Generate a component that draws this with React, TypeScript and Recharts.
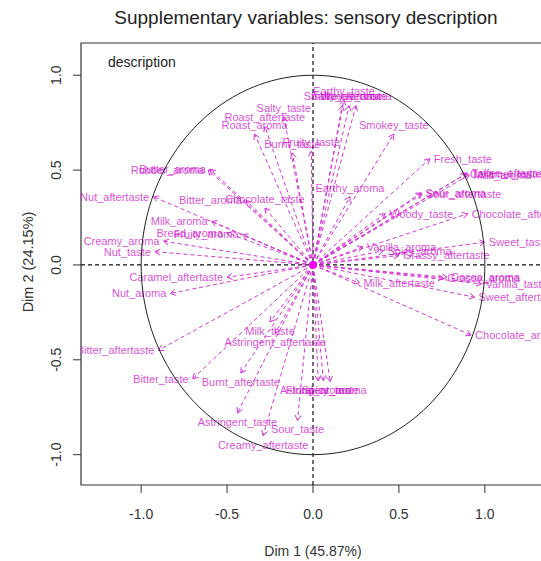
import React from 'react';
import { ScatterChart, Scatter, XAxis, YAxis, ReferenceLine, ReferenceArea, ReferenceDot } from 'recharts';

const chartTitle = 'Supplementary variables: sensory description';
const xTitle = 'Dim 1 (45.87%)';
const yTitle = 'Dim 2 (24.15%)';
const groupLabel = 'description';

const variables = [
  'Earthy_taste', 'Smokey_aroma', 'Salty_aftertaste', 'Woody_aroma', 'Smokey_taste', 'Fresh_taste',
  'Caramel_taste', 'Toffee_aftertaste', 'Malt_aroma', 'Sour_aroma', 'Sour_aftertaste', 'Woody_taste',
  'Chocolate_aftertaste', 'Sweet_taste', 'Vanilla_aroma', 'Spicy_aroma', 'Grassy_aftertaste',
  'Milk_aftertaste', 'Grassy_aroma', 'Cocoa_aroma', 'Vanilla_taste', 'Sweet_aftertaste',
  'Chocolate_aroma', 'Earthy_aroma', 'Salty_taste', 'Roast_aftertaste', 'Roast_aroma', 'Burnt_taste',
  'Fruity_taste', 'Rubber_aroma', 'Butter_aroma', 'Nut_aftertaste', 'Bitter_aroma', 'Chocolate_taste',
  'Milk_aroma', 'Bread_aroma', 'Fruity_aroma', 'Creamy_aroma', 'Nut_taste', 'Caramel_aftertaste',
  'Nut_aroma', 'Bitter_aftertaste', 'Bitter_taste', 'Burnt_aftertaste', 'Milk_taste',
  'Astringent_aftertaste', 'Astringent_taste', 'Creamy_aftertaste', 'Sour_taste', 'Astringent_aroma',
  'Floral_aroma', 'Spicy_taste',
];
const dim1Coords = [
  0.18, 0.17, 0.21, 0.25, 0.47, 0.68,
  0.89, 0.9, 0.91, 0.63, 0.635, 0.42,
  0.9, 1.0, 0.29, 0.41, 0.5,
  0.27, 0.76, 0.78, 0.98, 0.94,
  0.92, 0.215, -0.17, -0.28, -0.34, -0.12,
  -0.01, -0.61, -0.6, -0.93, -0.39, -0.28,
  -0.59, -0.5, -0.41, -0.87, -0.92, -0.5,
  -0.83, -0.9, -0.7, -0.42, -0.25,
  -0.22, -0.44, -0.29, -0.09, 0.06,
  0.03, 0.1,
];
const dim2Coords = [
  0.87, 0.84, 0.84, 0.84, 0.69, 0.56,
  0.48, 0.485, 0.475, 0.38, 0.375, 0.27,
  0.27, 0.12, 0.095, 0.075, 0.05,
  -0.095, -0.07, -0.065, -0.1, -0.17,
  -0.37, 0.36, 0.78, 0.73, 0.69, 0.59,
  0.6, 0.5, 0.505, 0.36, 0.34, 0.3,
  0.23, 0.17, 0.16, 0.125, 0.07, -0.065,
  -0.15, -0.45, -0.6, -0.57, -0.3,
  -0.36, -0.78, -0.9, -0.82, -0.61,
  -0.61, -0.615,
];
const xTicks = [-1, -0.5, 0, 0.5, 1];
const yTicks = [-1, -0.5, 0, 0.5, 1];

// unit correlation circle (geometry, radius 1)
const circlePoints = Array.from({ length: 181 }, (_, i) => ({
  x: Math.cos((i * 2 * Math.PI) / 180),
  y: Math.sin((i * 2 * Math.PI) / 180),
}));

const FONT = '"Liberation Sans", Arial, sans-serif';
const ARROW = '#d633d6';
const LABEL = '#cc00cc';

const makeArrow = (name: string, vx: number, vy: number) => (p: any) => {
  const { x1, y1, x2, y2, clipPath } = p;
  const ang = Math.atan2(y2 - y1, x2 - x1);
  const h = 6;
  const a = Math.PI / 6;
  const ax = x2 - h * Math.cos(ang - a);
  const ay = y2 - h * Math.sin(ang - a);
  const bx = x2 - h * Math.cos(ang + a);
  const by = y2 - h * Math.sin(ang + a);
  let tx = x2;
  let ty = y2;
  let anchor: any = 'middle';
  const dy = '0.35em';
  if (Math.abs(vx) > Math.abs(vy)) {
    if (vx > 0) { tx = x2 + 4; anchor = 'start'; } else { tx = x2 - 4; anchor = 'end'; }
  } else if (vy > 0) {
    ty = y2 - 9;
  } else {
    ty = y2 + 9;
  }
  return (
    <g clipPath={clipPath}>
      <line x1={x1} y1={y1} x2={x2} y2={y2} stroke={ARROW} strokeWidth={1} strokeDasharray="4 3" />
      <path d={`M${ax},${ay}L${x2},${y2}L${bx},${by}`} stroke={ARROW} strokeWidth={1} fill="none" />
      <text x={tx} y={ty} dy={dy} textAnchor={anchor} fontSize={11} fontFamily={FONT} fill={LABEL} fillOpacity={0.72}>
        {name}
      </text>
    </g>
  );
};

const XTick = (p: any) => (
  <text x={p.x} y={p.y} dy="0.71em" textAnchor="middle" fontSize={14} fontFamily={FONT} fill="#333">
    {Number(p.payload.value).toFixed(1)}
  </text>
);
const YTick = (p: any) => (
  <text x={p.x} y={p.y} transform={`rotate(-90, ${p.x}, ${p.y})`} textAnchor="middle" fontSize={14} fontFamily={FONT} fill="#333">
    {Number(p.payload.value).toFixed(1)}
  </text>
);
const NoDot = () => <g />;

export default function App() {
  return (
    <div style={{ position: 'absolute', left: 0, top: 0, width: 541, height: 561, overflow: 'hidden', background: '#fff' }}>
      <ScatterChart width={560} height={561} margin={{ top: 43, right: 15, bottom: 36, left: 41 }}>
        <XAxis
          type="number" dataKey="x" domain={[-1.35, 1.35]} allowDataOverflow ticks={xTicks}
          axisLine={false} tickSize={8} tickMargin={16} tickLine={{ stroke: '#333' }} tick={<XTick />} height={40}
        />
        <YAxis
          type="number" dataKey="y" domain={[-1.16, 1.17]} allowDataOverflow ticks={yTicks}
          axisLine={false} tickSize={8} tickMargin={12} tickLine={{ stroke: '#333' }} tick={<YTick />} width={40}
        />
        <ReferenceArea x1={-1.35} x2={1.35} y1={-1.16} y2={1.17} fill="none" fillOpacity={0} stroke="#333" strokeWidth={1.2} />
        <ReferenceLine x={0} stroke="#111" strokeWidth={1.2} strokeDasharray="4 3" />
        <ReferenceLine y={0} stroke="#111" strokeWidth={1.2} strokeDasharray="4 3" />
        <Scatter data={circlePoints} line={{ stroke: '#222', strokeWidth: 1 }} lineType="joint" shape={<NoDot />} isAnimationActive={false} />
        {variables.map((name, i) => (
          <ReferenceLine
            key={name}
            segment={[{ x: 0, y: 0 }, { x: dim1Coords[i], y: dim2Coords[i] }]}
            ifOverflow="hidden"
            stroke={ARROW}
            shape={makeArrow(name, dim1Coords[i], dim2Coords[i])}
          />
        ))}
        <ReferenceDot x={0} y={0} r={4} fill="#ff00ff" stroke="none" />
      </ScatterChart>
      <svg width={541} height={561} style={{ position: 'absolute', left: 0, top: 0, pointerEvents: 'none' }}>
        <text x={306} y={24} textAnchor="middle" fontSize={19} fontFamily={FONT} fill="#222">{chartTitle}</text>
        <text x={313} y={556} textAnchor="middle" fontSize={14} fontFamily={FONT} fill="#333">{xTitle}</text>
        <text x={33} y={262} transform="rotate(-90, 33, 262)" textAnchor="middle" fontSize={14.5} fontFamily={FONT} fill="#333">{yTitle}</text>
        <text x={108} y={67} fontSize={14} fontFamily={FONT} fill="#222">{groupLabel}</text>
      </svg>
    </div>
  );
}
